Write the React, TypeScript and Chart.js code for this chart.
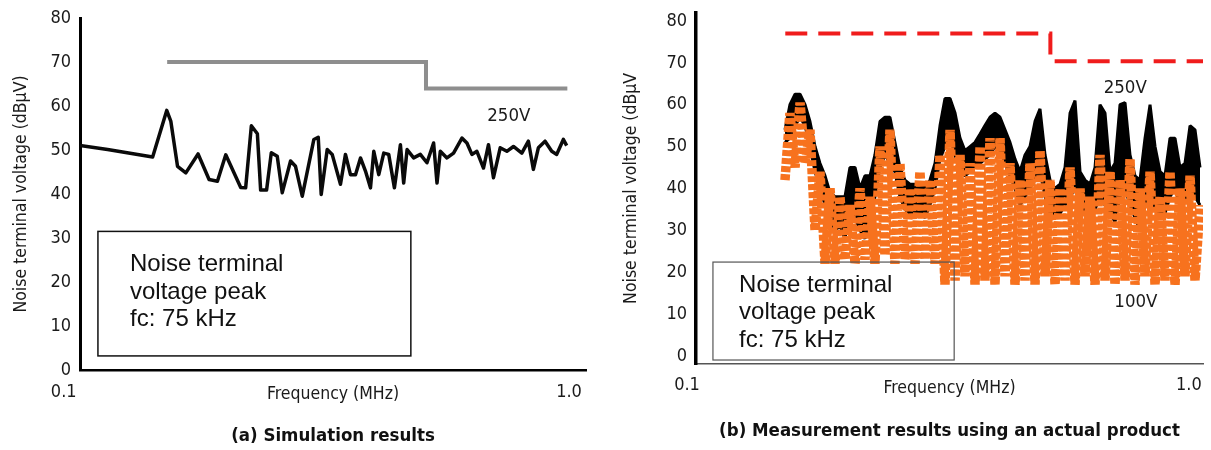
import React, { useEffect, useRef } from "react";
import { Chart, registerables } from "chart.js";

Chart.register(...registerables);

// ---------------- DATA ----------------
// (a) Simulation results
const simFreq = [0.1, 0.1137, 0.1402, 0.1497, 0.1526, 0.1574, 0.1636, 0.1732, 0.1823, 0.1895, 0.197, 0.2112, 0.2161, 0.2219, 0.2282, 0.2317, 0.2382, 0.2435, 0.2503, 0.2562, 0.2663, 0.2725, 0.2812, 0.2968, 0.3029, 0.3071, 0.3158, 0.3232, 0.3359, 0.3438, 0.3519, 0.3602, 0.3687, 0.3773, 0.3862, 0.3922, 0.4014, 0.4108, 0.4204, 0.4317, 0.4439, 0.4507, 0.4579, 0.4721, 0.487, 0.5023, 0.518, 0.5263, 0.5344, 0.5512, 0.5684, 0.591, 0.6049, 0.619, 0.6336, 0.6533, 0.6687, 0.6844, 0.7061, 0.7283, 0.751, 0.7808, 0.8051, 0.824, 0.8433, 0.87, 0.8974, 0.9185, 0.9472, 0.962];
const simVolt250 = [51.0, 50.1, 48.4, 59.0, 56.5, 46.3, 44.8, 49.1, 43.3, 42.9, 48.9, 41.5, 41.4, 55.5, 53.7, 40.9, 40.9, 49.4, 48.6, 40.3, 47.5, 46.3, 39.5, 52.4, 52.9, 39.9, 50.1, 49.0, 42.2, 49.0, 44.4, 44.4, 48.2, 45.2, 41.4, 49.7, 44.4, 49.3, 49.0, 41.4, 51.2, 42.5, 50.1, 48.2, 49.0, 47.1, 51.6, 42.5, 49.7, 48.2, 49.3, 52.7, 51.6, 49.0, 49.7, 45.9, 51.2, 43.7, 50.5, 49.7, 50.8, 49.3, 52.0, 45.6, 50.5, 52.0, 49.7, 49.0, 52.4, 51.0];
const simLimitFreq = [0.15, 0.5, 0.5, 0.965];
const simLimitVolt = [70, 70, 64, 64];

// (b) Measurement results
const measFreq = [0.1498, 0.1532, 0.1568, 0.1604, 0.1641, 0.1678, 0.1717, 0.1756, 0.1797, 0.1838, 0.188, 0.1923, 0.1967, 0.2012, 0.2059, 0.2106, 0.2154, 0.2204, 0.2254, 0.2306, 0.2359, 0.2413, 0.2468, 0.2525, 0.2583, 0.2642, 0.2704, 0.2765, 0.2829, 0.2894, 0.2961, 0.3029, 0.3098, 0.317, 0.3243, 0.3317, 0.3393, 0.3471, 0.3551, 0.3633, 0.3715, 0.3801, 0.3888, 0.3978, 0.4069, 0.4162, 0.4258, 0.4356, 0.4456, 0.4558, 0.4663, 0.477, 0.488, 0.4992, 0.5107, 0.5224, 0.5344, 0.5467, 0.5592, 0.5721, 0.5852, 0.5986, 0.6124, 0.6264, 0.6408, 0.6555, 0.6706, 0.686, 0.7018, 0.7178, 0.7343, 0.7512, 0.7685, 0.7862, 0.8042, 0.8227, 0.8414, 0.8608, 0.8806, 0.9008, 0.9215, 0.9428, 0.9643, 0.9865];
// 250 V: upper and lower edge of the measured black trace
const meas250High = [54, 60, 62.5, 62.5, 60, 56, 50, 46, 43, 39, 38, 38, 38, 45, 45, 40, 43, 43, 48, 56, 57, 57, 51, 45, 42, 41, 41, 41, 40, 42, 46, 55, 61.5, 61.5, 58, 52, 49, 50, 51, 53, 55, 57, 58, 57, 54, 51, 47, 44, 48, 50, 56, 59, 48, 42, 40, 41, 45, 58, 61, 44, 42, 41, 45, 60, 58, 44, 46, 60, 60.5, 48, 43, 42, 52, 60, 50, 44, 43, 52, 52, 45, 46, 55, 54, 45];
const meas250Low = [51, 52, 55, 57, 55, 50, 44, 40, 36, 33, 30, 31, 28, 35, 33, 30, 28, 32, 38, 45, 48, 46, 44, 38, 35, 34, 33, 34, 33, 36, 40, 47, 50, 52, 48, 44, 43, 44, 45, 46, 47, 48, 50, 49, 46, 43, 40, 36, 38, 40, 42, 44, 38, 33, 33, 34, 36, 38, 40, 35, 34, 33, 35, 38, 36, 34, 32, 38, 40, 36, 33, 30, 36, 38, 35, 33, 34, 38, 40, 36, 37, 40, 38, 36];
// 100 V: dotted trace swinging between its peaks and floor
const measVolt100 = [42, 58, 45, 60.5, 46, 54, 30, 44, 22, 40, 22, 38, 23, 36, 22, 40, 23, 38, 22, 50, 24, 54, 22, 46, 23, 40, 22, 44, 23, 42, 22, 48, 17, 54, 18, 48, 19, 46, 17, 50, 18, 52, 17, 52, 19, 46, 17, 42, 18, 46, 17, 49, 19, 42, 17, 40, 18, 45, 17, 40, 19, 38, 17, 48, 18, 44, 17, 42, 18, 47, 17, 40, 19, 44, 17, 38, 18, 44, 17, 40, 19, 43, 18, 36];
const measLimitFreq = [0.15, 0.5, 0.5, 1.0];
const measLimitVolt = [77, 77, 70.4, 70.4];

const yTickValues = [0, 10, 20, 30, 40, 50, 60, 70, 80];
const xTickValues = [0.1, 1.0];

// ---------------- STYLE ----------------
const NARROW = "'DejaVu Sans Condensed', 'Liberation Sans', sans-serif";
const SANS = "'Liberation Sans', Arial, sans-serif";

const pts = (xs: number[], ys: number[]) => xs.map((x, i) => ({ x, y: ys[i] }));

function notesPlugin(boxes: any[], notes: any[]) {
  return {
    id: "notes",
    afterDatasetsDraw(chart: any) {
      const { ctx } = chart;
      const xs = chart.scales.x;
      const ys = chart.scales.y;
      ctx.save();
      boxes.forEach((b) => {
        const x0 = xs.getPixelForValue(b.f0);
        const x1 = xs.getPixelForValue(b.f1);
        const y0 = ys.getPixelForValue(b.v0);
        const y1 = ys.getPixelForValue(b.v1);
        ctx.strokeStyle = b.color;
        ctx.lineWidth = b.width;
        ctx.strokeRect(x0, y0, x1 - x0, y1 - y0);
      });
      notes.forEach((n) => {
        ctx.font = n.font;
        ctx.fillStyle = n.color || "#111";
        ctx.textAlign = n.align || "left";
        ctx.textBaseline = n.baseline || "alphabetic";
        ctx.fillText(n.text, xs.getPixelForValue(n.f), ys.getPixelForValue(n.v));
      });
      ctx.restore();
    },
  };
}

function baseScales(o: any) {
  return {
    x: {
      type: "logarithmic",
      min: 0.1,
      max: o.xMax,
      grid: { display: false, drawTicks: false },
      border: { display: true, color: o.xBorderColor, width: o.xBorderWidth },
      afterBuildTicks: (s: any) => {
        s.ticks = xTickValues.map((v) => ({ value: v }));
      },
      ticks: {
        autoSkip: false,
        maxRotation: 0,
        minRotation: 0,
        padding: o.xTickPad,
        labelOffset: o.labelOffset,
        color: "#1a1a1a",
        font: { family: NARROW, size: 18 },
        callback: (v: any) => (v >= 0.99 ? "1.0" + o.endPad : "0.1" + o.startPad),
      },
      title: {
        display: true,
        text: "Frequency (MHz)",
        color: "#1a1a1a",
        font: { family: NARROW, size: 17.5 },
        padding: { top: 0, bottom: o.xTitlePadBottom },
      },
      afterFit: (s: any) => {
        s.height = 45;
        s.paddingLeft = 0;
        s.paddingRight = 0;
      },
    },
    y: {
      type: "linear",
      min: o.yMin,
      max: o.yMax,
      grid: { display: false, drawTicks: false },
      border: { display: true, color: "#000", width: o.yBorderWidth },
      afterBuildTicks: (s: any) => {
        s.ticks = yTickValues.map((v) => ({ value: v }));
      },
      ticks: {
        padding: 9,
        color: "#1a1a1a",
        font: { family: NARROW, size: 18 },
      },
      title: {
        display: true,
        text: o.yTitle,
        color: "#1a1a1a",
        font: { family: NARROW, size: 17.5 },
        padding: { top: o.yTitlePadTop, bottom: 0 },
      },
      afterFit: (s: any) => {
        s.width = o.yWidth;
        s.paddingTop = 0;
        s.paddingBottom = 0;
      },
    },
  };
}

function buildLeft(): any {
  return {
    type: "line",
    data: {
      datasets: [
        {
          label: "Limit",
          data: pts(simLimitFreq, simLimitVolt),
          borderColor: "#8e8e8e",
          borderWidth: 4,
          pointRadius: 0,
          tension: 0,
          order: 1,
        },
        {
          label: "250V",
          data: pts(simFreq, simVolt250),
          borderColor: "#0a0a0a",
          borderWidth: 3.5,
          borderJoinStyle: "round",
          pointRadius: 0,
          tension: 0,
          order: 0,
        },
      ],
    },
    options: {
      animation: false,
      responsive: false,
      devicePixelRatio: 1,
      layout: { padding: { left: 0, right: 14, top: 18, bottom: 0 } },
      plugins: {
        legend: { display: false },
        tooltip: { enabled: false },
        title: {
          display: true,
          position: "bottom",
          fullSize: false,
          text: "(a) Simulation results",
          color: "#111",
          font: { family: NARROW, size: 18.5, weight: "bold", lineHeight: 1.2 },
          padding: { top: 10, bottom: 2.8 },
        },
      },
      scales: baseScales({
        xMax: 1.0525,
        xBorderColor: "#000",
        xBorderWidth: 2.5,
        xTickPad: 12,
        labelOffset: -6,
        startPad: "\u2007\u2007",
        endPad: "",
        xTitlePadBottom: 10,
        yMin: 0,
        yMax: 80,
        yBorderWidth: 3,
        yTitle: "Noise terminal voltage (dBμV)",
        yTitlePadTop: 11,
        yWidth: 80,
      }),
    },
    plugins: [
      notesPlugin(
        [{ f0: 0.1087, f1: 0.466, v0: 31.5, v1: 3.2, color: "#111", width: 1.5 }],
        [
          { text: "Noise terminal", f: 0.1262, v: 22.4, font: `24px ${SANS}` },
          { text: "voltage peak", f: 0.1262, v: 16.2, font: `24px ${SANS}` },
          { text: "fc: 75 kHz", f: 0.1262, v: 10.0, font: `24px ${SANS}` },
          { text: "250V", f: 0.735, v: 57.6, font: `18.5px ${NARROW}`, align: "center", baseline: "middle", color: "#1a1a1a" },
        ]
      ),
    ],
  };
}

function buildRight(): any {
  return {
    type: "line",
    data: {
      datasets: [
        {
          label: "Limit",
          data: pts(measLimitFreq, measLimitVolt),
          borderColor: "#f01c1c",
          borderWidth: 4,
          borderDash: [22, 11],
          pointRadius: 0,
          tension: 0,
          order: 0,
        },
        {
          label: "100V",
          data: pts(measFreq, measVolt100),
          borderColor: "#f7721e",
          borderWidth: 9.5,
          borderDash: [6, 2],
          borderJoinStyle: "bevel",
          pointRadius: 0,
          tension: 0,
          order: 1,
        },
        {
          label: "250V",
          data: pts(measFreq, meas250High),
          borderColor: "#000",
          backgroundColor: "#000",
          borderWidth: 3,
          borderJoinStyle: "bevel",
          fill: "+1",
          pointRadius: 0,
          tension: 0,
          order: 2,
        },
        {
          label: "250V low",
          data: pts(measFreq, meas250Low),
          borderColor: "#000",
          borderWidth: 3,
          borderJoinStyle: "bevel",
          fill: false,
          pointRadius: 0,
          tension: 0,
          order: 3,
        },
      ],
    },
    options: {
      animation: false,
      responsive: false,
      devicePixelRatio: 1,
      layout: { padding: { left: 0, right: 8, top: 12.6, bottom: 0 } },
      plugins: {
        legend: { display: false },
        tooltip: { enabled: false },
        filler: { propagate: false },
        title: {
          display: true,
          position: "bottom",
          fullSize: false,
          text: "(b) Measurement results using an actual product",
          color: "#111",
          font: { family: NARROW, size: 18.5, weight: "bold", lineHeight: 1.2 },
          padding: { top: 10.8, bottom: 7.8 },
        },
      },
      scales: baseScales({
        xMax: 1.0,
        xBorderColor: "#555",
        xBorderWidth: 1.5,
        xTickPad: 10,
        labelOffset: -9,
        startPad: "",
        endPad: "\u2007",
        xTitlePadBottom: 10,
        yMin: -2,
        yMax: 82,
        yBorderWidth: 3.5,
        yTitle: "Noise terminal voltage (dBμV",
        yTitlePadTop: 20.5,
        yWidth: 96,
      }),
    },
    plugins: [
      notesPlugin(
        [{ f0: 0.108, f1: 0.323, v0: 22.4, v1: -1.0, color: "#555", width: 1.2 }],
        [
          { text: "Noise terminal", f: 0.1216, v: 15.2, font: `24px ${SANS}` },
          { text: "voltage peak", f: 0.1216, v: 8.8, font: `24px ${SANS}` },
          { text: "fc: 75 kHz", f: 0.1216, v: 2.1, font: `24px ${SANS}` },
          { text: "250V", f: 0.7024, v: 64.0, font: `18.5px ${NARROW}`, align: "center", baseline: "middle", color: "#1a1a1a" },
          { text: "100V", f: 0.7372, v: 12.9, font: `18.5px ${NARROW}`, align: "center", baseline: "middle", color: "#1a1a1a" },
        ]
      ),
    ],
  };
}

function Panel({ left, width, build }: { left: number; width: number; build: () => any }) {
  const ref = useRef<HTMLCanvasElement | null>(null);
  useEffect(() => {
    if (!ref.current) return;
    const chart = new Chart(ref.current, build());
    return () => chart.destroy();
  }, [build]);
  return (
    <canvas
      ref={ref}
      width={width}
      height={450}
      style={{ position: "absolute", left, top: 0, width, height: 450 }}
    />
  );
}

export default function App() {
  return (
    <div style={{ position: "absolute", left: 0, top: 0, width: 1211, height: 450, background: "#fff" }}>
      <Panel left={0} width={600} build={buildLeft} />
      <Panel left={600} width={611} build={buildRight} />
    </div>
  );
}
